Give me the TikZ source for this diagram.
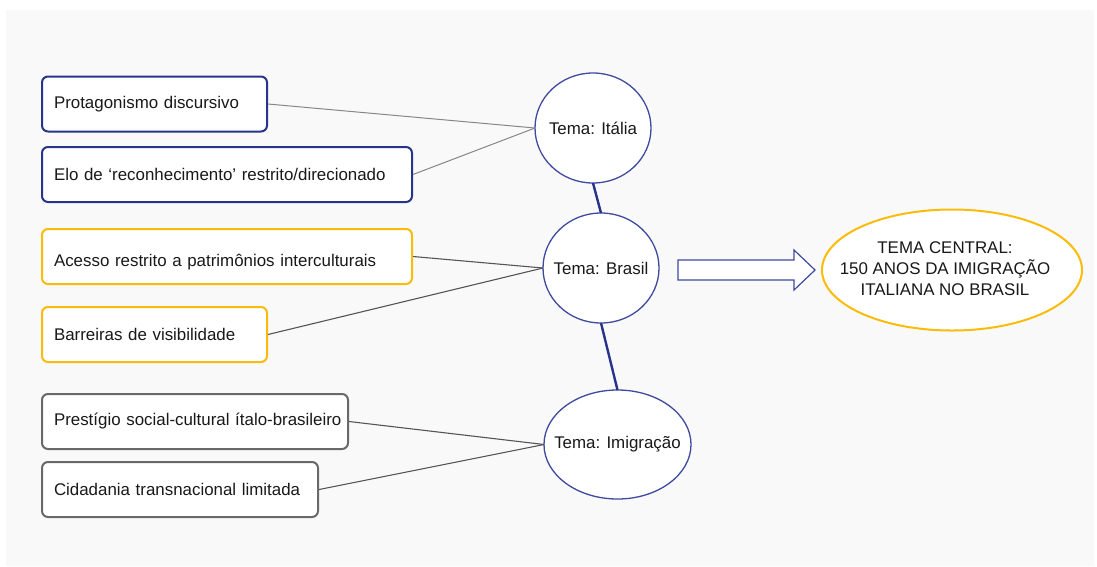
\documentclass[tikz,border=0pt]{standalone}
\usepackage{fontspec}
\setmainfont{Liberation Sans}
\usetikzlibrary{shapes.geometric}
\definecolor{navy}{RGB}{40,52,140}
\definecolor{circ}{RGB}{62,74,158}
\definecolor{gold}{RGB}{250,188,10}
\definecolor{boxgray}{RGB}{105,105,105}
\definecolor{panel}{RGB}{249,249,249}
\definecolor{linegray}{RGB}{135,135,135}
\definecolor{linedark}{RGB}{85,85,85}
\definecolor{txt}{RGB}{25,25,25}
\begin{document}
\begin{tikzpicture}[x=1pt,y=-1pt,
  font=\fontsize{16.9}{21}\selectfont, text=txt,
  box/.style={draw, rounded corners=6pt, line width=2pt, fill=white,
    minimum height=55pt, inner xsep=12pt, inner ysep=0pt, anchor=west,
    align=left, text width=#1},
  navybox/.style={box=#1, draw=navy},
  goldbox/.style={box=#1, draw=gold},
  graybox/.style={box=#1, draw=boxgray},
  tema/.style={ellipse, draw=circ, line width=1.3pt, fill=white, inner sep=0pt, outer sep=0pt},
  conn/.style={draw=linegray, line width=1pt},
  conndark/.style={draw=linedark, line width=1.1pt},
  link/.style={draw=navy, line width=2.4pt}]
\useasboundingbox (0,0) rectangle (1097,566);
\fill[white] (0,0) rectangle (1097,566);
\fill[panel] (6,10) rectangle (1094,566);

% theme nodes
\node[tema, minimum width=116pt, minimum height=110pt] (it) at (593,128) {\makebox[0pt]{Tema: Itália}};
\node[tema, minimum width=116pt, minimum height=110pt] (br) at (601,268) {\makebox[0pt]{Tema: Brasil}};
\node[tema, minimum width=147pt, minimum height=109pt] (im) at (617.5,444.5) {\makebox[0pt]{Tema: Imigração}};

% boxes
\node[navybox=201pt] (b1) at (41,104) {\mbox{Protagonismo discursivo}};
\node[navybox=346pt] (b2) at (41,174.5) {\mbox{Elo de ‘reconhecimento’ restrito/direcionado}};
\node[goldbox=346pt] (b3) at (41,256.5) {\raisebox{-6pt}[\height][\depth]{Acesso restrito a patrimônios interculturais}};
\node[goldbox=201pt] (b4) at (41,334.5) {\mbox{Barreiras de visibilidade}};
\node[graybox=282pt] (b5) at (41,421.5) {\makebox[282pt][l]{Prestígio social-cultural ítalo-brasileiro}};
\node[graybox=252pt] (b6) at (41,489.5) {\mbox{Cidadania transnacional limitada}};

% central theme
\node[ellipse, draw=gold, line width=2pt, fill=white, inner sep=0pt,
  minimum width=260pt, minimum height=121pt] (ct) at (952,270)
  {\makebox[0pt]{\begin{tabular}{@{}c@{}}TEMA CENTRAL:\\150 ANOS DA IMIGRAÇÃO\\ITALIANA NO BRASIL\end{tabular}\hspace{14pt}}};

% block arrow
\draw[draw=circ, line width=1.2pt, fill=white, line join=miter]
  (678,260) -- (794,260) -- (794,250) -- (815,270) -- (794,290) -- (794,280) -- (678,280) -- cycle;

% connectors
\draw[conn] (b1.east) -- (it.west);
\draw[conn] (b2.east) -- (it.west);
\draw[conndark] (b3.east) -- (br.west);
\draw[conndark] (b4.east) -- (br.west);
\draw[conndark] (b5.east) -- (im.west);
\draw[conndark] (b6.east) -- (im.west);
\draw[link] (it.south) -- (br.north);
\draw[link] (br.south) -- (im.north);
\end{tikzpicture}
\end{document}
